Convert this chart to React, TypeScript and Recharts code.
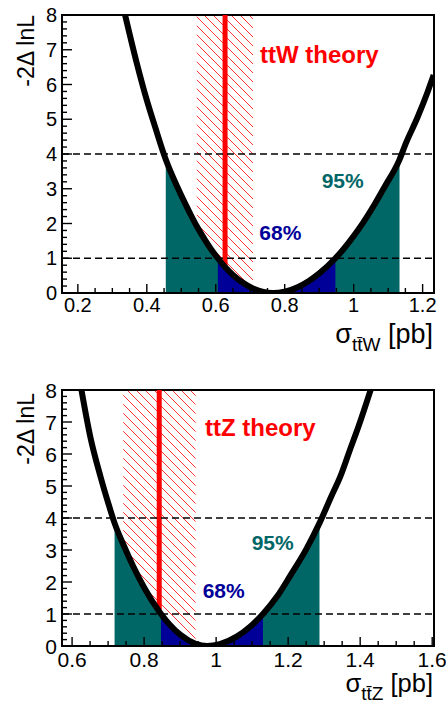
import React from 'react';
import { ComposedChart, Line, Area, XAxis, YAxis, ReferenceArea } from 'recharts';

const FONT = '"Liberation Sans", Arial, Helvetica, sans-serif';
const TEAL = '#006666';
const NAVY = '#000099';
const RED = '#ff0000';

// ---------- ttW panel ----------
const ttwX = [0.337, 0.370, 0.400, 0.425, 0.455, 0.490, 0.525, 0.545, 0.570, 0.590, 0.606, 0.627, 0.650, 0.680, 0.708, 0.735, 0.766, 0.800, 0.839, 0.870, 0.901, 0.947, 0.966, 1.000, 1.027, 1.060, 1.090, 1.133, 1.151, 1.185, 1.215, 1.232];
const ttwY = [8.0, 6.65, 5.55, 4.75, 3.84, 3.02, 2.30, 1.92, 1.51, 1.21, 1.0, 0.75, 0.52, 0.285, 0.13, 0.036, 0.0, 0.04, 0.175, 0.345, 0.57, 1.0, 1.21, 1.64, 2.02, 2.54, 3.06, 3.84, 4.3, 5.05, 5.8, 6.27];
const ttwRange68 = [0.606, 0.947];
const ttwRange95 = [0.455, 1.133];
const ttwTheoryBand = [0.545, 0.708];
const ttwTheory = 0.627;
const ttwXDomain = [0.154, 1.233];
const ttwXMajor = [0.2, 0.4, 0.6, 0.8, 1.0, 1.2];

// ---------- ttZ panel ----------
const ttzX = [0.626, 0.650, 0.679, 0.700, 0.718, 0.742, 0.771, 0.800, 0.842, 0.847, 0.870, 0.901, 0.943, 0.975, 1.010, 1.058, 1.095, 1.130, 1.170, 1.206, 1.250, 1.287, 1.320, 1.345, 1.370, 1.396, 1.429];
const ttzY = [8.0, 6.57, 5.29, 4.48, 3.84, 3.18, 2.46, 1.83, 1.077, 1.0, 0.68, 0.347, 0.069, 0.0, 0.057, 0.30, 0.61, 1.0, 1.56, 2.2, 3.02, 3.84, 4.68, 5.3, 6.08, 6.88, 8.0];
const ttzRange68 = [0.847, 1.130];
const ttzRange95 = [0.718, 1.287];
const ttzTheoryBand = [0.742, 0.943];
const ttzTheory = 0.842;
const ttzXDomain = [0.572, 1.605];
const ttzXMajor = [0.6, 0.8, 1.0, 1.2, 1.4, 1.6];

const yMajor = [0, 1, 2, 3, 4, 5, 6, 7, 8];
const levelLow = 1;
const levelHigh = 4;
const yMax = 8;

function withMinor(major: number[], n: number): number[] {
  const out: number[] = [];
  for (let i = 0; i < major.length; i++) {
    out.push(major[i]);
    if (i < major.length - 1) {
      const step = (major[i + 1] - major[i]) / n;
      for (let k = 1; k < n; k++) out.push(+(major[i] + k * step).toFixed(4));
    }
  }
  return out;
}

const inR = (x: number, r: number[]) => x >= r[0] - 1e-9 && x <= r[1] + 1e-9;

function buildRows(xs: number[], ys: number[], r68: number[], r95: number[], band: number[], theory: number, dom: number[]) {
  const rows: any[] = [];
  rows.push({ x: dom[0], d1: levelLow, d4: levelHigh });
  xs.forEach((x, i) => {
    const y = ys[i];
    const r: any = { x, curve: y };
    if (inR(x, r95)) r.f95 = y;
    if (inR(x, r68)) r.f68 = y;
    if (inR(x, band)) r.hatch = [y, yMax];
    rows.push(r);
    if (Math.abs(x - theory) < 1e-9) {
      r.red = y;
      rows.push({ x, red: yMax });
    }
  });
  rows.push({ x: dom[1], d1: levelLow, d4: levelHigh });
  return rows;
}

const fmt = (v: number) => String(Number(v.toFixed(2)));

const makeXTick = (labelDy: number, fontSize: number) => (props: any) => {
  const { x, y, payload } = props;
  const v = payload.value as number;
  const major = Math.abs(v * 5 - Math.round(v * 5)) < 1e-6;
  return (
    <g>
      <line x1={x} x2={x} y1={y} y2={y - (major ? 9 : 5)} stroke="#000" strokeWidth={1.4} />
      {major && (
        <text x={x} y={y + labelDy} textAnchor="middle" fontSize={fontSize} fontFamily={FONT} fill="#000">
          {fmt(v)}
        </text>
      )}
    </g>
  );
};

const makeYTick = (fontSize: number) => (props: any) => {
  const { x, y, payload } = props;
  const v = payload.value as number;
  const major = Math.abs(v - Math.round(v)) < 1e-6;
  return (
    <g>
      <line x1={x} x2={x + (major ? 10 : 5)} y1={y} y2={y} stroke="#000" strokeWidth={1.4} />
      {major && (
        <text x={x - 5} y={y + fontSize * 0.36} textAnchor="end" fontSize={fontSize} fontFamily={FONT} fill="#000">
          {fmt(v)}
        </text>
      )}
    </g>
  );
};

type PanelProps = {
  xs: number[]; ys: number[]; r68: number[]; r95: number[]; band: number[]; theory: number;
  xDomain: number[]; xMajor: number[]; height: number; marginTop: number; marginBottom: number;
  labelDy: number; tickFont: number;
  theoryLabel: string; theoryPos: number[]; pos95: number[]; pos68: number[];
  yTitleTop: number; xTitleBase: number; xTitleFont: number; xSub: string; patternId: string;
};

function Panel(p: PanelProps) {
  const rows = buildRows(p.xs, p.ys, p.r68, p.r95, p.band, p.theory, p.xDomain);
  const xTicks = withMinor(p.xMajor, 4);
  const yTicks = withMinor(yMajor, 5);
  return (
    <ComposedChart width={446} height={p.height} data={rows} margin={{ top: p.marginTop, right: 12, bottom: p.marginBottom, left: 0 }}>
      <defs>
        <pattern id={p.patternId} patternUnits="userSpaceOnUse" width={9} height={9}>
          <path d="M0,0 L9,9 M-4.5,4.5 L4.5,13.5 M4.5,-4.5 L13.5,4.5" stroke="#ff3535" strokeWidth={1} />
        </pattern>
      </defs>
      <XAxis dataKey="x" type="number" domain={p.xDomain} allowDataOverflow ticks={xTicks} interval={0}
        tickSize={0} tickMargin={0} axisLine={false} tickLine={false} height={60} tick={makeXTick(p.labelDy, p.tickFont)} />
      <YAxis type="number" domain={[0, yMax]} allowDataOverflow ticks={yTicks} interval={0}
        tickSize={0} tickMargin={0} axisLine={false} tickLine={false} width={62} tick={makeYTick(p.tickFont)} />
      <Area dataKey="f95" type="monotone" fill={TEAL} fillOpacity={1} stroke="none" connectNulls isAnimationActive={false} activeDot={false} />
      <Area dataKey="f68" type="monotone" fill={NAVY} fillOpacity={1} stroke="none" connectNulls isAnimationActive={false} activeDot={false} />
      <Area dataKey="hatch" type="monotone" fill={`url(#${p.patternId})`} fillOpacity={1} stroke="none" connectNulls isAnimationActive={false} activeDot={false} />
      <Line dataKey="red" type="linear" stroke={RED} strokeWidth={5} dot={false} activeDot={false} connectNulls isAnimationActive={false} />
      <Line dataKey="d1" type="linear" stroke="#000" strokeWidth={1.5} strokeDasharray="7 4" dot={false} activeDot={false} connectNulls isAnimationActive={false} />
      <Line dataKey="d4" type="linear" stroke="#000" strokeWidth={1.5} strokeDasharray="7 4" dot={false} activeDot={false} connectNulls isAnimationActive={false} />
      <Line dataKey="curve" type="monotone" stroke="#000" strokeWidth={6} dot={false} activeDot={false} connectNulls isAnimationActive={false} />
      <ReferenceArea x1={p.xDomain[0]} x2={p.xDomain[1]} y1={0} y2={yMax} fill="none" stroke="#000" strokeWidth={2} ifOverflow="visible" />
      <text x={p.theoryPos[0]} y={p.theoryPos[1]} fontSize={24} fontWeight="bold" fontFamily={FONT} fill={RED}>{p.theoryLabel}</text>
      <text x={p.pos95[0]} y={p.pos95[1]} fontSize={21} fontWeight="bold" fontFamily={FONT} fill={TEAL}>95%</text>
      <text x={p.pos68[0]} y={p.pos68[1]} fontSize={21} fontWeight="bold" fontFamily={FONT} fill={NAVY}>68%</text>
      <text transform={`translate(34,${p.yTitleTop}) rotate(-90)`} textAnchor="end" fontSize={23} fontFamily={FONT} fill="#000">-2Δ lnL</text>
      <text x={433} y={p.xTitleBase} textAnchor="end" fontSize={p.xTitleFont} fontFamily={FONT} fill="#000">
        <tspan>σ</tspan>
        <tspan fontSize={19} dy={8}>{p.xSub}</tspan>
        <tspan dy={-8}> [pb]</tspan>
      </text>
    </ComposedChart>
  );
}

export default function App() {
  return (
    <div style={{ position: 'absolute', left: 0, top: 0, width: 446, height: 706, background: '#fff' }}>
      <div style={{ position: 'absolute', left: 0, top: 0 }}>
        <Panel xs={ttwX} ys={ttwY} r68={ttwRange68} r95={ttwRange95} band={ttwTheoryBand} theory={ttwTheory}
          xDomain={ttwXDomain} xMajor={ttwXMajor} height={362} marginTop={15} marginBottom={9} labelDy={19} tickFont={20}
          theoryLabel="ttW theory" theoryPos={[260, 63]} pos95={[321.7, 187.7]} pos68={[259.3, 240]}
          yTitleTop={15} xTitleBase={343} xTitleFont={27} xSub={'tt\u0304W'} patternId="hatchW" />
      </div>
      <div style={{ position: 'absolute', left: 0, top: 353 }}>
        <Panel xs={ttzX} ys={ttzY} r68={ttzRange68} r95={ttzRange95} band={ttzTheoryBand} theory={ttzTheory}
          xDomain={ttzXDomain} xMajor={ttzXMajor} height={353} marginTop={37} marginBottom={0} labelDy={20.5} tickFont={21}
          theoryLabel="ttZ theory" theoryPos={[205, 82.7]} pos95={[251.7, 197]} pos68={[202.7, 245.3]}
          yTitleTop={40} xTitleBase={339} xTitleFont={25.5} xSub={'tt\u0304Z'} patternId="hatchZ" />
      </div>
    </div>
  );
}
